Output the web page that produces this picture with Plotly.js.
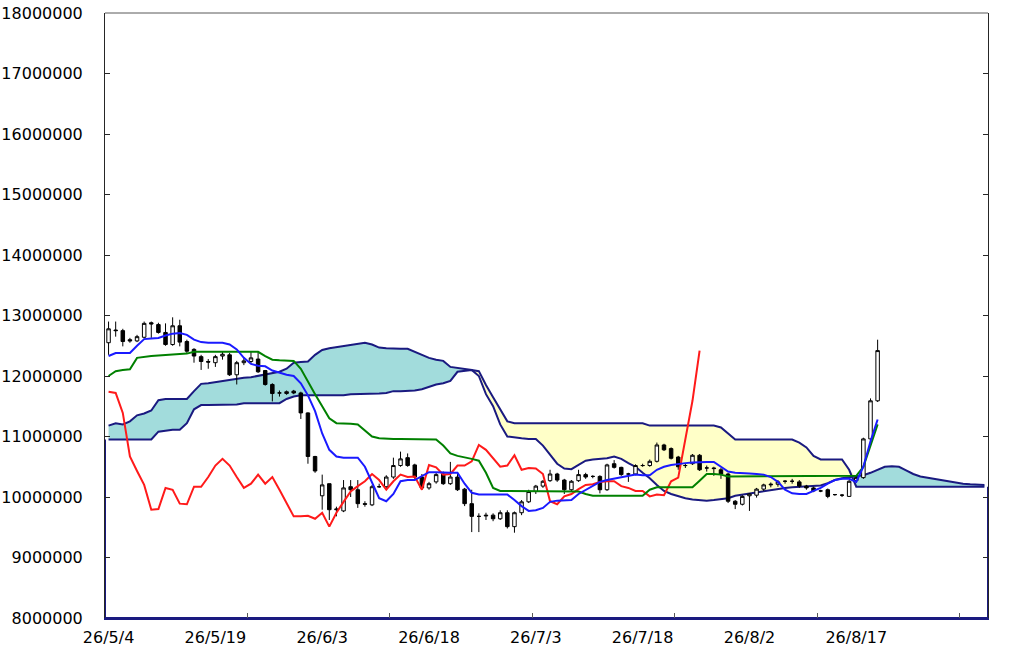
<!DOCTYPE html>
<html>
<head>
<meta charset="utf-8">
<script src="https://cdn.plot.ly/plotly-3.0.1.min.js"></script>
<style>
  html, body { margin: 0; padding: 0; background: #fff; }
  #chart { width: 1024px; height: 657px; }
</style>
</head>
<body>
<div id="chart"></div>
<script>
// Daily candles, one category per day starting 26/5/4
const labelIdx = [0, 15, 30, 45, 60, 75, 90, 105];
const labelText = ['26/5/4', '26/5/19', '26/6/3', '26/6/18', '26/7/3', '26/7/18', '26/8/2', '26/8/17'];

const open = [
  12.55e6, 12.76e6, 12.75e6, 12.60e6, 12.58e6, 12.64e6, 12.88e6, 12.85e6, 12.72e6, 12.52e6,
  12.83e6, 12.57e6, 12.44e6, 12.32e6, 12.24e6, 12.22e6, 12.33e6, 12.35e6, 12.02e6, 12.22e6,
  12.24e6, 12.28e6, 12.09e6, 11.86e6, 11.72e6, 11.71e6, 11.75e6, 11.72e6, 11.39e6, 10.67e6,
  10.02e6, 10.22e6, 9.79e6, 9.77e6, 10.17e6, 10.12e6, 9.89e6, 9.87e6, 10.17e6, 10.17e6,
  10.33e6, 10.52e6, 10.65e6, 10.53e6, 10.33e6, 10.15e6, 10.25e6, 10.38e6, 10.22e6, 10.33e6,
  10.13e6, 9.89e6, 9.68e6, 9.70e6, 9.70e6, 9.64e6, 9.74e6, 9.51e6, 9.74e6, 9.92e6,
  10.09e6, 10.18e6, 10.27e6, 10.38e6, 10.28e6, 10.12e6, 10.27e6, 10.37e6, 10.34e6, 10.34e6,
  10.12e6, 10.55e6, 10.49e6, 10.38e6, 10.38e6, 10.52e6, 10.52e6, 10.59e6, 10.86e6, 10.80e6,
  10.66e6, 10.52e6, 10.55e6, 10.69e6, 10.48e6, 10.48e6, 10.45e6, 10.38e6, 9.93e6, 9.88e6,
  10.02e6, 10.03e6, 10.13e6, 10.20e6, 10.21e6, 10.26e6, 10.26e6, 10.25e6, 10.18e6, 10.15e6,
  10.10e6, 10.12e6, 10.04e6, 10.03e6, 10.01e6, 10.27e6, 10.32e6, 10.96e6, 11.59e6
];
const high = [
  12.90e6, 12.90e6, 12.78e6, 12.63e6, 12.68e6, 12.90e6, 12.90e6, 12.88e6, 12.87e6, 12.97e6,
  12.93e6, 12.60e6, 12.46e6, 12.35e6, 12.28e6, 12.35e6, 12.40e6, 12.38e6, 12.25e6, 12.30e6,
  12.40e6, 12.40e6, 12.10e6, 11.88e6, 11.76e6, 11.76e6, 11.77e6, 11.74e6, 11.40e6, 10.68e6,
  10.37e6, 10.22e6, 9.84e6, 10.28e6, 10.28e6, 10.28e6, 9.93e6, 10.20e6, 10.22e6, 10.36e6,
  10.65e6, 10.75e6, 10.72e6, 10.55e6, 10.38e6, 10.25e6, 10.40e6, 10.42e6, 10.58e6, 10.38e6,
  10.15e6, 10.12e6, 9.73e6, 9.74e6, 9.73e6, 9.78e6, 9.78e6, 9.76e6, 9.95e6, 10.12e6,
  10.20e6, 10.28e6, 10.45e6, 10.40e6, 10.30e6, 10.28e6, 10.45e6, 10.40e6, 10.36e6, 10.36e6,
  10.55e6, 10.61e6, 10.50e6, 10.40e6, 10.54e6, 10.55e6, 10.62e6, 10.90e6, 10.88e6, 10.82e6,
  10.68e6, 10.55e6, 10.71e6, 10.71e6, 10.52e6, 10.50e6, 10.48e6, 10.40e6, 9.95e6, 10.03e6,
  10.06e6, 10.15e6, 10.22e6, 10.24e6, 10.28e6, 10.28e6, 10.30e6, 10.28e6, 10.20e6, 10.17e6,
  10.12e6, 10.14e6, 10.05e6, 10.05e6, 10.28e6, 10.35e6, 10.98e6, 11.63e6, 12.60e6
];
const low = [
  12.35e6, 12.65e6, 12.49e6, 12.55e6, 12.56e6, 12.62e6, 12.63e6, 12.70e6, 12.50e6, 12.50e6,
  12.49e6, 12.38e6, 12.22e6, 12.10e6, 12.12e6, 12.15e6, 12.27e6, 12.00e6, 11.86e6, 12.18e6,
  12.20e6, 12.05e6, 11.84e6, 11.58e6, 11.66e6, 11.69e6, 11.70e6, 11.29e6, 10.55e6, 10.40e6,
  9.79e6, 9.62e6, 9.68e6, 9.75e6, 10.00e6, 9.82e6, 9.84e6, 9.85e6, 10.15e6, 10.15e6,
  10.30e6, 10.50e6, 10.50e6, 10.30e6, 10.12e6, 10.12e6, 10.22e6, 10.20e6, 10.20e6, 10.10e6,
  9.85e6, 9.42e6, 9.42e6, 9.62e6, 9.60e6, 9.62e6, 9.48e6, 9.41e6, 9.70e6, 9.90e6,
  10.05e6, 10.15e6, 10.25e6, 10.25e6, 10.05e6, 10.10e6, 10.25e6, 10.30e6, 10.31e6, 10.06e6,
  10.10e6, 10.47e6, 10.35e6, 10.25e6, 10.36e6, 10.50e6, 10.50e6, 10.57e6, 10.76e6, 10.62e6,
  10.45e6, 10.48e6, 10.53e6, 10.43e6, 10.42e6, 10.35e6, 10.30e6, 9.90e6, 9.80e6, 9.86e6,
  9.77e6, 9.99e6, 10.10e6, 10.16e6, 10.17e6, 10.22e6, 10.22e6, 10.15e6, 10.12e6, 10.08e6,
  10.08e6, 9.98e6, 10.02e6, 10.00e6, 10.00e6, 10.25e6, 10.30e6, 10.93e6, 11.57e6
];
const close = [
  12.78e6, 12.75e6, 12.57e6, 12.58e6, 12.65e6, 12.87e6, 12.86e6, 12.72e6, 12.52e6, 12.83e6,
  12.56e6, 12.41e6, 12.33e6, 12.24e6, 12.23e6, 12.32e6, 12.36e6, 12.02e6, 12.22e6, 12.25e6,
  12.30e6, 12.07e6, 11.86e6, 11.71e6, 11.72e6, 11.74e6, 11.72e6, 11.39e6, 10.67e6, 10.43e6,
  10.20e6, 9.79e6, 9.80e6, 10.15e6, 10.12e6, 9.89e6, 9.88e6, 10.17e6, 10.17e6, 10.33e6,
  10.52e6, 10.63e6, 10.52e6, 10.33e6, 10.15e6, 10.22e6, 10.37e6, 10.22e6, 10.33e6, 10.12e6,
  9.89e6, 9.68e6, 9.68e6, 9.69e6, 9.64e6, 9.74e6, 9.51e6, 9.74e6, 9.92e6, 10.09e6,
  10.18e6, 10.26e6, 10.38e6, 10.28e6, 10.12e6, 10.26e6, 10.37e6, 10.33e6, 10.34e6, 10.12e6,
  10.53e6, 10.49e6, 10.37e6, 10.38e6, 10.52e6, 10.52e6, 10.59e6, 10.86e6, 10.78e6, 10.64e6,
  10.50e6, 10.52e6, 10.69e6, 10.45e6, 10.48e6, 10.47e6, 10.38e6, 9.93e6, 9.88e6, 10.01e6,
  10.05e6, 10.13e6, 10.20e6, 10.21e6, 10.25e6, 10.26e6, 10.26e6, 10.18e6, 10.15e6, 10.10e6,
  10.10e6, 10.01e6, 10.04e6, 10.03e6, 10.26e6, 10.32e6, 10.96e6, 11.59e6, 12.42e6
];

// Conversion line (blue)
const tenkan = [
  12.33e6, 12.38e6, 12.38e6, 12.38e6, 12.50e6, 12.61e6, 12.62e6, 12.63e6, 12.67e6, 12.70e6,
  12.71e6, 12.68e6, 12.60e6, 12.56e6, 12.55e6, 12.55e6, 12.55e6, 12.52e6, 12.44e6, 12.30e6,
  12.20e6, 12.17e6, 12.16e6, 12.09e6, 12.05e6, 12.02e6, 12.00e6, 11.88e6, 11.68e6, 11.42e6,
  11.05e6, 10.78e6, 10.67e6, 10.65e6, 10.65e6, 10.65e6, 10.50e6, 10.25e6, 9.98e6, 9.93e6,
  10.05e6, 10.26e6, 10.28e6, 10.28e6, 10.35e6, 10.41e6, 10.41e6, 10.40e6, 10.40e6, 10.40e6,
  10.22e6, 10.07e6, 10.04e6, 10.04e6, 10.04e6, 10.04e6, 10.04e6, 9.95e6, 9.85e6, 9.77e6,
  9.78e6, 9.82e6, 9.92e6, 9.94e6, 9.94e6, 9.95e6, 10.05e6, 10.12e6, 10.18e6, 10.25e6,
  10.28e6, 10.30e6, 10.33e6, 10.35e6, 10.37e6, 10.36e6, 10.36e6, 10.45e6, 10.50e6, 10.53e6,
  10.55e6, 10.56e6, 10.57e6, 10.58e6, 10.58e6, 10.58e6, 10.50e6, 10.42e6, 10.40e6, 10.40e6,
  10.39e6, 10.38e6, 10.37e6, 10.33e6, 10.25e6, 10.12e6, 10.06e6, 10.05e6, 10.05e6, 10.10e6,
  10.15e6, 10.22e6, 10.28e6, 10.30e6, 10.30e6, 10.25e6, 10.50e6, 10.92e6, 11.28e6
];
// Base line (green)
const kijun = [
  12.00e6, 12.08e6, 12.10e6, 12.11e6, 12.30e6, 12.32e6, 12.33e6, 12.34e6, 12.35e6, 12.36e6,
  12.37e6, 12.37e6, 12.40e6, 12.40e6, 12.40e6, 12.40e6, 12.40e6, 12.40e6, 12.40e6, 12.40e6,
  12.40e6, 12.40e6, 12.33e6, 12.27e6, 12.26e6, 12.25e6, 12.25e6, 12.12e6, 11.90e6, 11.70e6,
  11.50e6, 11.30e6, 11.22e6, 11.22e6, 11.21e6, 11.20e6, 11.10e6, 11.00e6, 10.97e6, 10.96e6,
  10.96e6, 10.96e6, 10.96e6, 10.96e6, 10.96e6, 10.96e6, 10.95e6, 10.85e6, 10.72e6, 10.68e6,
  10.66e6, 10.63e6, 10.60e6, 10.40e6, 10.15e6, 10.10e6, 10.10e6, 10.10e6, 10.10e6, 10.10e6,
  10.10e6, 10.10e6, 10.10e6, 10.10e6, 10.10e6, 10.10e6, 10.09e6, 10.05e6, 10.02e6, 10.02e6,
  10.02e6, 10.02e6, 10.02e6, 10.02e6, 10.02e6, 10.02e6, 10.12e6, 10.16e6, 10.16e6, 10.16e6,
  10.16e6, 10.16e6, 10.16e6, 10.27e6, 10.38e6, 10.38e6, 10.37e6, 10.34e6, 10.34e6, 10.34e6,
  10.34e6, 10.34e6, 10.34e6, 10.34e6, 10.34e6, 10.34e6, 10.34e6, 10.34e6, 10.34e6, 10.34e6,
  10.34e6, 10.34e6, 10.34e6, 10.34e6, 10.34e6, 10.35e6, 10.50e6, 10.85e6, 11.20e6
];
// Lagging span (red), starts at the first category
const chikou = [
  11.74e6, 11.72e6, 11.39e6, 10.67e6, 10.43e6, 10.20e6, 9.79e6, 9.80e6, 10.15e6, 10.12e6,
  9.89e6, 9.88e6, 10.17e6, 10.17e6, 10.33e6, 10.52e6, 10.63e6, 10.52e6, 10.33e6, 10.15e6,
  10.22e6, 10.37e6, 10.22e6, 10.33e6, 10.12e6, 9.89e6, 9.68e6, 9.68e6, 9.69e6, 9.64e6,
  9.74e6, 9.51e6, 9.74e6, 9.92e6, 10.09e6, 10.18e6, 10.26e6, 10.38e6, 10.28e6, 10.12e6,
  10.26e6, 10.37e6, 10.33e6, 10.34e6, 10.12e6, 10.53e6, 10.49e6, 10.37e6, 10.38e6, 10.52e6,
  10.52e6, 10.59e6, 10.86e6, 10.78e6, 10.64e6, 10.50e6, 10.52e6, 10.69e6, 10.45e6, 10.48e6,
  10.47e6, 10.38e6, 9.93e6, 9.88e6, 10.01e6, 10.05e6, 10.13e6, 10.20e6, 10.21e6, 10.25e6,
  10.26e6, 10.26e6, 10.18e6, 10.15e6, 10.10e6, 10.10e6, 10.01e6, 10.04e6, 10.03e6, 10.26e6,
  10.32e6, 10.96e6, 11.59e6, 12.42e6
];
// Leading spans (cloud edges), run to the right edge
const spanA = [
  11.18e6, 11.22e6, 11.20e6, 11.25e6, 11.35e6, 11.38e6, 11.43e6, 11.60e6, 11.62e6, 11.62e6,
  11.62e6, 11.62e6, 11.75e6, 11.87e6, 11.88e6, 11.90e6, 11.92e6, 11.94e6, 11.95e6, 11.97e6,
  11.98e6, 12.00e6, 12.02e6, 12.05e6, 12.07e6, 12.12e6, 12.22e6, 12.23e6, 12.24e6, 12.35e6,
  12.43e6, 12.46e6, 12.48e6, 12.50e6, 12.52e6, 12.54e6, 12.55e6, 12.52e6, 12.47e6, 12.46e6,
  12.45e6, 12.45e6, 12.45e6, 12.40e6, 12.35e6, 12.30e6, 12.27e6, 12.25e6, 12.15e6, 12.13e6,
  12.12e6, 12.10e6, 12.00e6, 11.70e6, 11.50e6, 11.20e6, 11.00e6, 10.98e6, 10.97e6, 10.96e6,
  10.96e6, 10.85e6, 10.70e6, 10.55e6, 10.47e6, 10.46e6, 10.53e6, 10.60e6, 10.62e6, 10.63e6,
  10.64e6, 10.67e6, 10.63e6, 10.56e6, 10.50e6, 10.40e6, 10.31e6, 10.20e6, 10.10e6, 10.05e6,
  10.01e6, 9.98e6, 9.96e6, 9.95e6, 9.94e6, 9.95e6, 9.96e6, 9.98e6, 10.02e6, 10.04e6,
  10.06e6, 10.08e6, 10.09e6, 10.11e6, 10.13e6, 10.15e6, 10.16e6, 10.17e6, 10.17e6, 10.18e6,
  10.19e6, 10.23e6, 10.28e6, 10.31e6, 10.33e6, 10.34e6, 10.36e6, 10.40e6, 10.45e6, 10.50e6,
  10.51e6, 10.50e6, 10.44e6, 10.38e6, 10.34e6, 10.32e6, 10.30e6, 10.27e6, 10.25e6, 10.24e6,
  10.22e6, 10.21e6, 10.20e6, 10.20e6
];
const spanB = [
  10.95e6, 10.95e6, 10.95e6, 10.95e6, 10.95e6, 10.95e6, 10.95e6, 11.08e6, 11.10e6, 11.11e6,
  11.11e6, 11.22e6, 11.45e6, 11.52e6, 11.52e6, 11.52e6, 11.52e6, 11.52e6, 11.53e6, 11.55e6,
  11.55e6, 11.55e6, 11.55e6, 11.55e6, 11.55e6, 11.62e6, 11.66e6, 11.68e6, 11.68e6, 11.68e6,
  11.68e6, 11.68e6, 11.68e6, 11.68e6, 11.70e6, 11.70e6, 11.70e6, 11.70e6, 11.71e6, 11.72e6,
  11.75e6, 11.75e6, 11.75e6, 11.76e6, 11.78e6, 11.82e6, 11.86e6, 11.88e6, 11.92e6, 12.07e6,
  12.09e6, 12.10e6, 12.08e6, 11.85e6, 11.65e6, 11.45e6, 11.25e6, 11.22e6, 11.22e6, 11.22e6,
  11.22e6, 11.22e6, 11.22e6, 11.22e6, 11.22e6, 11.22e6, 11.22e6, 11.22e6, 11.22e6, 11.22e6,
  11.22e6, 11.22e6, 11.22e6, 11.22e6, 11.22e6, 11.22e6, 11.18e6, 11.18e6, 11.18e6, 11.18e6,
  11.18e6, 11.18e6, 11.18e6, 11.18e6, 11.18e6, 11.18e6, 11.15e6, 11.05e6, 10.95e6, 10.95e6,
  10.95e6, 10.95e6, 10.95e6, 10.95e6, 10.95e6, 10.95e6, 10.95e6, 10.90e6, 10.82e6, 10.68e6,
  10.62e6, 10.62e6, 10.62e6, 10.62e6, 10.45e6, 10.17e6, 10.17e6, 10.17e6, 10.17e6, 10.17e6,
  10.17e6, 10.17e6, 10.17e6, 10.17e6, 10.17e6, 10.17e6, 10.17e6, 10.17e6, 10.17e6, 10.17e6,
  10.17e6, 10.17e6, 10.17e6, 10.17e6
];

const X_MIN = -0.5, X_MAX = 123.5;
const Y_MIN = 8e6, Y_MAX = 18e6;
const FONT = { family: 'DejaVu Sans', size: 16, color: '#000' };
const NAVY = '#1a1a80';

const idx = n => Array.from({ length: n }, (_, i) => i);
const dayX = idx(open.length);
const spanX = idx(spanA.length);
const cloudTop = spanA.map((a, i) => Math.max(a, spanB[i]));

function edge(y, fill, color) {
    return {
        x: spanX, y: y, type: 'scatter', mode: 'lines',
        line: { width: 0 }, fill: fill || 'none', fillcolor: color,
        hoverinfo: 'skip', showlegend: false,
    };
}

function line(x, y, color, axis) {
    return {
        x: x, y: y, type: 'scatter', mode: 'lines', xaxis: axis || 'x',
        line: { color: color, width: 2 }, hoverinfo: 'skip', showlegend: false,
    };
}

const traces = [
    // teal where A is above B, yellow where B is above A
    edge(spanB),
    edge(cloudTop, 'tonexty', '#a2dcdc'),
    edge(spanA),
    edge(cloudTop, 'tonexty', '#ffffc8'),
    line(spanX, spanA, NAVY),
    line(spanX, spanB, NAVY),
    // outline of the span B area down to the axis
    {
        x: [X_MIN, X_MIN, X_MAX, X_MAX],
        y: [spanB[0], Y_MIN, Y_MIN, spanB[spanB.length - 1]],
        type: 'scatter', mode: 'lines', cliponaxis: false,
        line: { color: NAVY, width: 2 }, hoverinfo: 'skip', showlegend: false,
    },
    // candles and the three lines sit on the overlay axis so they draw above the cloud
    {
        x: dayX, open: open, high: high, low: low, close: close,
        type: 'candlestick', xaxis: 'x2', whiskerwidth: 0,
        increasing: { fillcolor: '#ffffff', line: { color: '#000000', width: 1 } },
        decreasing: { fillcolor: '#000000', line: { color: '#000000', width: 1 } },
        hoverinfo: 'skip', showlegend: false,
    },
    line(idx(chikou.length), chikou, '#ff1a1a', 'x2'),
    line(dayX, kijun, '#008000', 'x2'),
    line(dayX, tenkan, '#1a1aff', 'x2'),
];

const layout = {
    width: 1024,
    height: 657,
    margin: { l: 105, r: 36, t: 13, b: 39 },
    paper_bgcolor: '#ffffff',
    plot_bgcolor: '#ffffff',
    showlegend: false,
    font: FONT,
    xaxis: {
        range: [X_MIN, X_MAX],
        showgrid: false, zeroline: false,
        showline: true, linecolor: NAVY, linewidth: 2,
        ticks: 'inside', tick0: X_MIN, dtick: 20, ticklen: 5, tickcolor: '#595959',
        showticklabels: false,
        rangeslider: { visible: false },
        fixedrange: true,
    },
    xaxis2: {
        overlaying: 'x',
        range: [X_MIN, X_MAX],
        showgrid: false, zeroline: false, showline: false,
        ticks: '',
        tickmode: 'array', tickvals: labelIdx, ticktext: labelText,
        tickfont: FONT,
        ticklabelstandoff: 8,
        rangeslider: { visible: false },
        fixedrange: true,
    },
    yaxis: {
        range: [Y_MIN, Y_MAX],
        dtick: 1e6,
        tickformat: 'd',
        showgrid: false, zeroline: false,
        showline: true, linecolor: '#262626', linewidth: 1, mirror: 'ticks',
        ticks: 'inside', ticklen: 5, tickcolor: '#262626',
        tickfont: FONT,
        ticklabelstandoff: 18,
        fixedrange: true,
    },
    shapes: [
        { type: 'line', xref: 'paper', yref: 'paper', x0: 0, x1: 1, y0: 1, y1: 1,
          line: { color: '#595959', width: 1 } },
    ],
};

Plotly.newPlot('chart', traces, layout, { staticPlot: true, displayModeBar: false });
</script>
</body>
</html>
